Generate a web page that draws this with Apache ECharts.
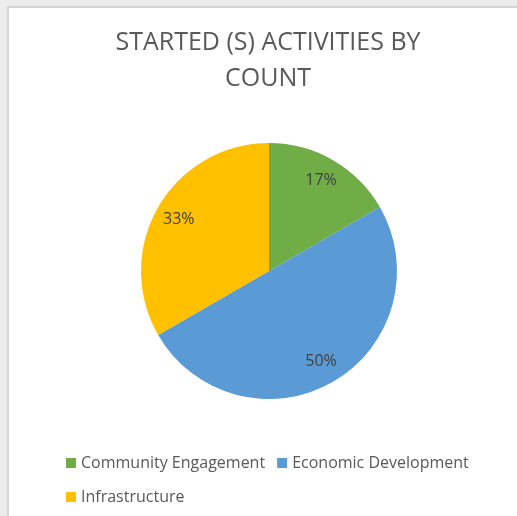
<!DOCTYPE html>
<html>
<head>
<meta charset="utf-8">
<script src="https://cdn.jsdelivr.net/npm/echarts@6/dist/echarts.min.js"></script>
<style>
  html, body { margin: 0; padding: 0; background: #ececec; }
  #chart { width: 517px; height: 516px; }
</style>
</head>
<body>
<div id="chart"></div>
<script>
// Started activities, counted per category
const categories = ['Community Engagement', 'Economic Development', 'Infrastructure'];
const counts = [1, 3, 2];
const sliceColors = ['#70AD47', '#5B9BD5', '#FFC000'];
const titleLines = ['STARTED (S) ACTIVITIES BY', 'COUNT'];

const FONT = '"Open Sans", sans-serif';
const CENTER = [269, 271];
const R = 128;

const pieData = categories.map((name, i) => ({
  name: name,
  value: counts[i],
  itemStyle: { color: sliceColors[i] }
}));

const chart = echarts.init(document.getElementById('chart'), null, { renderer: 'canvas' });

chart.setOption({
  backgroundColor: '#ececec',
  animation: false,
  graphic: [
    {
      // white chart area with a light frame
      type: 'rect',
      z: -10,
      shape: { x: 8, y: 7, width: 530, height: 530 },
      style: { fill: '#ffffff', stroke: '#d4d4d4', lineWidth: 2 }
    },
    {
      // two-line title, centred over the chart area
      type: 'text',
      x: 268,
      y: 25,
      style: {
        text: titleLines.join('\n'),
        textAlign: 'center',
        textVerticalAlign: 'top',
        font: 'normal 25px ' + FONT,
        lineHeight: 36,
        fill: '#595959'
      }
    }
  ],
  legend: {
    data: categories,
    left: 61,
    top: 447,
    width: 430,
    itemWidth: 10,
    itemHeight: 10,
    itemGap: 12,
    icon: 'rect',
    textStyle: {
      fontFamily: FONT,
      fontSize: 16,
      color: '#595959',
      lineHeight: 22
    }
  },
  series: [
    {
      type: 'pie',
      center: CENTER,
      radius: [0, R],
      startAngle: 90,
      clockwise: true,
      percentPrecision: 0,
      label: { show: false },
      labelLine: { show: false },
      emphasis: { disabled: true },
      data: pieData
    },
    {
      // percentage labels placed at roughly 78% of the radius
      type: 'pie',
      center: CENTER,
      radius: [R * 0.58, R],
      startAngle: 90,
      clockwise: true,
      percentPrecision: 0,
      silent: true,
      itemStyle: { color: 'rgba(0,0,0,0)' },
      label: {
        show: true,
        position: 'inside',
        formatter: '{d}%',
        fontFamily: FONT,
        fontSize: 16,
        color: '#404040'
      },
      labelLine: { show: false },
      emphasis: { disabled: true },
      data: categories.map((name, i) => ({ name: name, value: counts[i] }))
    }
  ]
});
</script>
</body>
</html>
